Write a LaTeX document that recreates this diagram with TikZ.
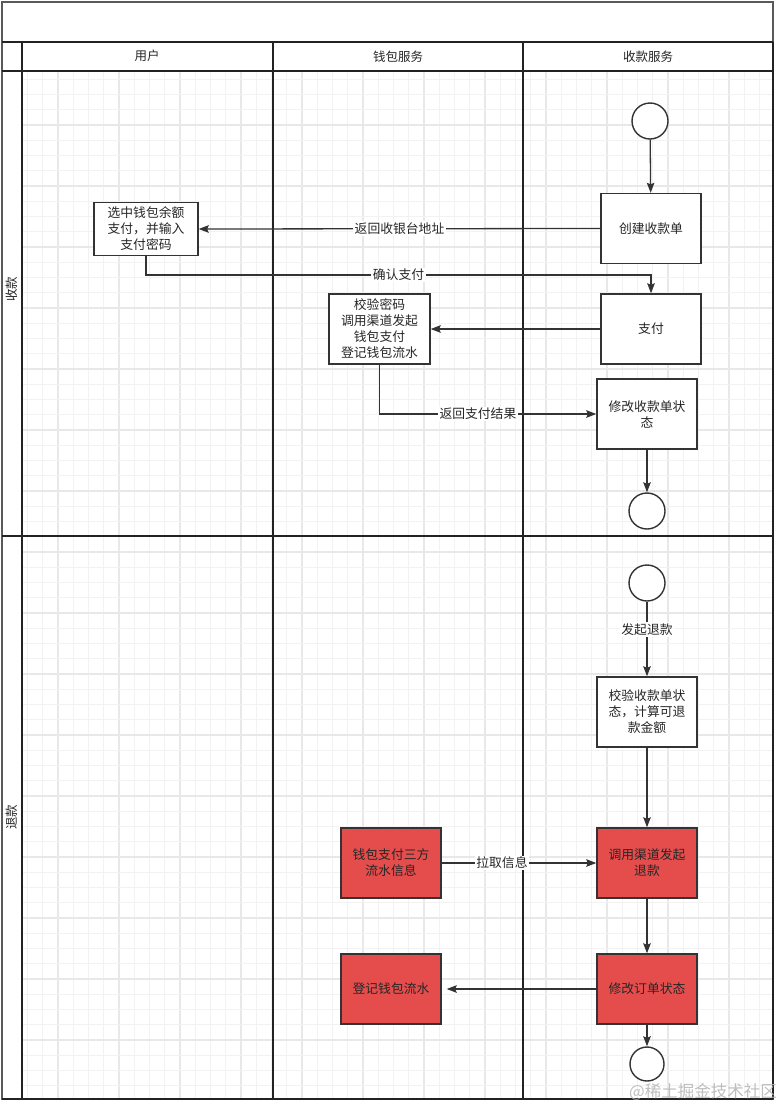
\documentclass[tikz,border=0pt]{standalone}
\usepackage{fontspec}
\setmainfont{Noto Sans CJK SC}
\usetikzlibrary{arrows.meta}
\definecolor{boxred}{RGB}{229,77,77}
\definecolor{gridminor}{RGB}{242,242,242}
\definecolor{gridmajor}{RGB}{232,232,232}
\definecolor{lanecol}{RGB}{34,34,34}
\definecolor{linecol}{RGB}{51,51,51}
\newcommand{\boxfont}{\fontsize{12.8}{16}\selectfont}
\newcommand{\headfont}{\fontsize{12.5}{15}\selectfont}
\tikzset{
  stepbox/.style={draw=linecol, line width=1.4, fill=white, minimum width=100, minimum height=70, inner sep=0, align=center, font=\boxfont, text=black!85},
  redbox/.style={stepbox, fill=boxred},
  startend/.style={draw=linecol, line width=1.4, fill=white, circle, minimum size=36, inner sep=0},
  arr/.style={draw=linecol, line width=1.3, -{Stealth[length=10pt,width=7.5pt,inset=1.5pt]}},
  lbl/.style={fill=white, inner sep=1.5, font=\boxfont, text=black!85},
  lane/.style={draw=lanecol, line width=2},
  hdr/.style={font=\headfont, text=black!85}
}
\begin{document}
\begin{tikzpicture}[x=1pt,y=-1pt]
\useasboundingbox (0,0) rectangle (784,1106);
\fill[white] (0,0) rectangle (784,1106);
% grid
\begin{scope}
\clip (22,71) rectangle (773,1099);
\foreach \i in {-3,...,50} {
  \pgfmathsetmacro\xx{58+15.25*\i}
  \pgfmathtruncatemacro\mm{mod(\i+40,4)}
  \ifnum\mm=0
    \draw[gridmajor, line width=1.2] (\xx,60) -- (\xx,1110);
  \else
    \draw[gridminor, line width=0.8] (\xx,60) -- (\xx,1110);
  \fi
}
\foreach \j in {-1,...,70} {
  \pgfmathsetmacro\yy{64+15.25*\j}
  \pgfmathtruncatemacro\mm{mod(\j+40,4)}
  \ifnum\mm=0
    \draw[gridmajor, line width=1.2] (10,\yy) -- (780,\yy);
  \else
    \draw[gridminor, line width=0.8] (10,\yy) -- (780,\yy);
  \fi
}
\end{scope}
% pool frame
\draw[draw=black!65, line width=1.5] (2,2) rectangle (773,1099);
\draw[lane] (2,42) -- (773,42);
\draw[lane] (2,71) -- (773,71);
\draw[lane] (2,536) -- (773,536);
\draw[lane] (22,42) -- (22,1099);
\draw[lane] (273,42) -- (273,1099);
\draw[lane] (523,42) -- (523,1099);
\draw[lane] (773,42) -- (773,1099);
\draw[lane] (2,1099) -- (773,1099);
% headers
\node[hdr] (hUser) at (147,56) {用户};
\node[hdr] (hWallet) at (398,57) {钱包服务};
\node[hdr] (hPay) at (648,57) {收款服务};
\node[hdr, rotate=90] (lCollect) at (12,289) {收款};
\node[hdr, rotate=90] (lRefund) at (12,817) {退款};
% collection lane nodes
\node[startend] (s1) at (650,121) {};
\node[stepbox] (create) at (651,228.5) {创建收款单};
\node[stepbox, minimum width=104, minimum height=53] (select) at (146,229) {选中钱包余额\\支付，并输入\\支付密码};
\node[stepbox] (pay) at (651,329) {支付};
\node[stepbox, minimum width=101] (verify) at (379.5,329) {校验密码\\调用渠道发起\\钱包支付\\登记钱包流水};
\node[stepbox] (modify) at (647,414) {修改收款单状\\态};
\node[startend] (e1) at (647,511) {};
% refund lane nodes
\node[startend] (s2) at (647,583) {};
\node[stepbox] (check) at (647,712) {校验收款单状\\态，计算可退\\款金额};
\node[redbox] (call) at (647,863) {调用渠道发起\\退款};
\node[redbox] (info) at (391,863) {钱包支付三方\\流水信息};
\node[redbox] (order) at (647,989) {修改订单状态};
\node[redbox] (record) at (391,989) {登记钱包流水};
\node[startend, minimum size=34] (e2) at (647,1064) {};
% connectors
\coordinate (c1) at (146,275);
\coordinate (c2) at (651,275);
\draw[arr] (s1) -- (create);
\draw[arr] (create.west) -- node[lbl] {返回收银台地址} (select.east);
\draw[arr] (select.south) -- (c1) -- node[lbl] {确认支付} (c2) -- (pay.north);
\draw[arr] (pay.west) -- (verify.east);
\draw[arr] (verify.south) |- node[lbl, pos=0.727] {返回支付结果} (modify.west);
\draw[arr] (modify) -- (e1);
\draw[arr] (s2) -- node[lbl, pos=0.37] {发起退款} (check);
\draw[arr] (check) -- (call);
\draw[arr] (info.east) -- node[lbl, pos=0.39] {拉取信息} (call.west);
\draw[arr] (call) -- (order);
\draw[arr, shorten >=5] (order.west) -- (record.east);
\draw[arr] (order) -- (e2);
% watermark
\node[font=\fontsize{16.5}{18}\selectfont, text=black!28, opacity=0.9, inner sep=0] (wm) at (703,1092) {@稀土掘金技术社区};
\end{tikzpicture}
\end{document}
